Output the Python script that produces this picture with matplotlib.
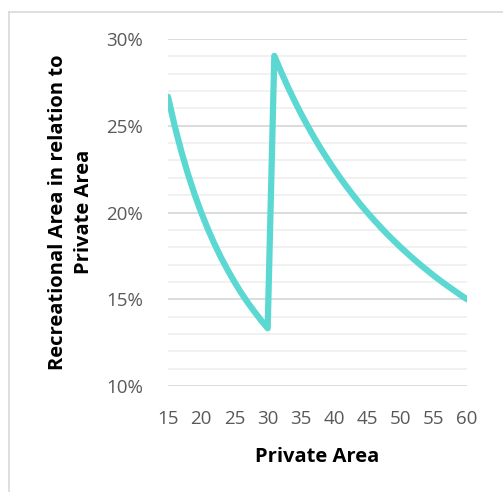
import matplotlib
matplotlib.use("Agg")
import matplotlib.pyplot as plt
from matplotlib.lines import Line2D
from matplotlib.ticker import MultipleLocator, PercentFormatter

# private area (x) and recreational share (y)
private_area = list(range(15, 61))
recreational_share = [
    0.2667, 0.2500, 0.2353, 0.2222, 0.2105, 0.2000, 0.1905, 0.1818,
    0.1739, 0.1667, 0.1600, 0.1538, 0.1481, 0.1429, 0.1379, 0.1333,
    0.2903, 0.2813, 0.2727, 0.2647, 0.2571, 0.2500, 0.2432, 0.2368,
    0.2308, 0.2250, 0.2195, 0.2143, 0.2093, 0.2045, 0.2000, 0.1957,
    0.1915, 0.1875, 0.1837, 0.1800, 0.1765, 0.1731, 0.1698, 0.1667,
    0.1636, 0.1607, 0.1579, 0.1552, 0.1525, 0.1500,
]
x_ticks = list(range(15, 61, 5))
y_ticks = [0.10, 0.15, 0.20, 0.25, 0.30]

plt.rcParams['font.family'] = ['Open Sans', 'DejaVu Sans']

fig = plt.figure(figsize=(5.03, 4.92), dpi=100)
ax = fig.add_axes([168/503, 1-386/492, (467-168)/503, (386-39)/492])

ax.plot(private_area, recreational_share, color="#5CD8D3", lw=4.5,
        solid_capstyle="round", solid_joinstyle="round", zorder=3)

ax.set_xlim(15, 60)
ax.set_ylim(0.10, 0.30)
ax.set_xticks(x_ticks)
ax.set_yticks(y_ticks)
ax.yaxis.set_minor_locator(MultipleLocator(0.01))
ax.yaxis.set_major_formatter(PercentFormatter(1.0, decimals=0))
ax.grid(axis="y", which="major", color="#d9d9d9", lw=1.3)
ax.grid(axis="y", which="minor", color="#f0f0f0", lw=1.3)
ax.grid(axis="x", visible=False)
for s in ax.spines.values():
    s.set_visible(False)
ax.tick_params(which="both", length=0, labelsize=13.5, labelcolor="#595959")
ax.tick_params(axis="y", pad=18)
ax.tick_params(axis="x", pad=17)

fig.text(317/503, 1-457/492, "Private Area", ha="center", va="center",
         fontsize=14.5, fontweight="bold", color="black")
fig.text(71/503, 1-212/492, "Recreational Area in relation to\nPrivate Area",
         ha="center", va="center", rotation=90, fontsize=14.5,
         fontweight="bold", color="black", linespacing=1.35)

# chart area border (only left and top visible in the crop)
fig.add_artist(Line2D([8.5/503, 8.5/503], [0, 1-11.5/492], transform=fig.transFigure,
                      color="#d9d9d9", lw=1.2))
fig.add_artist(Line2D([8.5/503, 1], [1-11.5/492, 1-11.5/492], transform=fig.transFigure,
                      color="#d9d9d9", lw=1.2))

fig.savefig("out.png", dpi=100)
